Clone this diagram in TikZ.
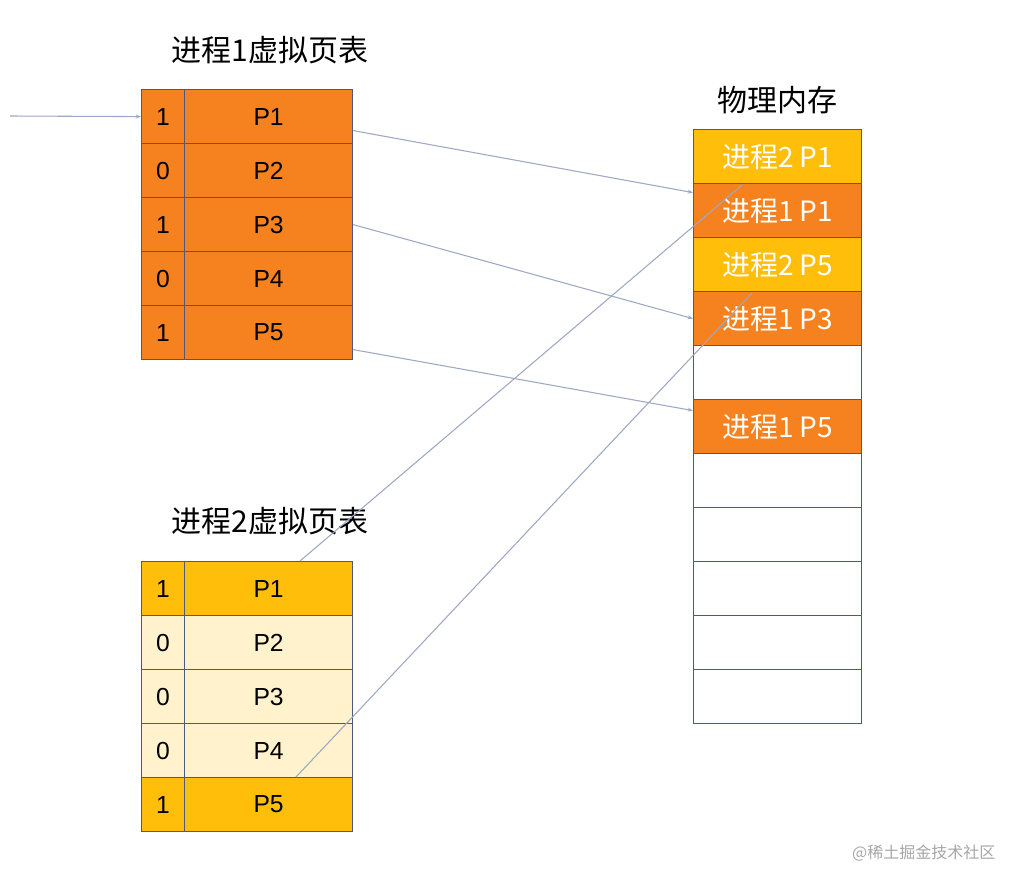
\documentclass[tikz,border=0pt]{standalone}
\usepackage{fontspec}
\setmainfont{Liberation Sans}
\newfontfamily\cjk{Noto Sans CJK SC}
\usetikzlibrary{arrows.meta}
\definecolor{org}{HTML}{F5821F}
\definecolor{gld}{HTML}{FFBE0A}
\definecolor{crm}{HTML}{FFF2CC}
\definecolor{bd}{HTML}{4A5A80}
\definecolor{ln}{HTML}{9EA8C4}
\begin{document}
\begin{tikzpicture}[x=0.75pt,y=-0.75pt,
  cell/.style={draw=bd,line width=0.9pt,minimum height=54*0.75pt,inner sep=0pt,font=\fontsize{18.5}{18.5}\selectfont,anchor=north west},
  bit/.style={cell,minimum width=43*0.75pt},
  pg/.style={cell,minimum width=168*0.75pt},
  mem/.style={cell,minimum width=168*0.75pt,text=white,font=\cjk\fontsize{21}{21}\selectfont},
  ttl/.style={font=\cjk\fontsize{22.5}{22.5}\selectfont},
  con/.style={draw=ln,line width=0.8pt},
  arr/.style={con,-{Stealth[length=4pt,width=3pt]}}]
\useasboundingbox (0,0) rectangle (1022,888);
% table 1
\node[ttl] (t1) at (270,50) {进程1虚拟页表};
\foreach \i/\b in {1/1,2/0,3/1,4/0,5/1}{
  \node[bit,fill=org] (a\i) at (141,{89+54*(\i-1)}) {\b};
  \node[pg,fill=org] (p\i) at (184,{89+54*(\i-1)}) {P\i};
}
% table 2
\node[ttl] (t2) at (270,521) {进程2虚拟页表};
\foreach \i/\b/\c in {1/1/gld,2/0/crm,3/0/crm,4/0/crm,5/1/gld}{
  \node[bit,fill=\c] (b\i) at (141,{561+54*(\i-1)}) {\b};
  \node[pg,fill=\c] (q\i) at (184,{561+54*(\i-1)}) {P\i};
}
% memory
\node[ttl] (t3) at (777,100) {物理内存};
\node[mem,fill=gld] (m1) at (693,129) {进程2 P1};
\node[mem,fill=org] (m2) at (693,183) {进程1 P1};
\node[mem,fill=gld] (m3) at (693,237) {进程2 P5};
\node[mem,fill=org] (m4) at (693,291) {进程1 P3};
\node[mem] (m5) at (693,345) {};
\node[mem,fill=org] (m6) at (693,399) {进程1 P5};
\foreach \i in {7,...,11}{\node[mem] (m\i) at (693,{453+54*(\i-7)}) {};}
% connectors
\coordinate (s0) at (10,116);
\draw[arr] (s0) -- (a1.west);
\draw[arr] ([yshift=-14*0.75pt]p1.east) -- ([yshift=18*0.75pt]m2.west);
\draw[arr] (p3.east) -- (m4.west);
\draw[arr] ([yshift=-17*0.75pt]p5.east) -- ([yshift=16*0.75pt]m6.west);
\coordinate (e1) at (742,185);
\coordinate (e2) at (752,293);
\coordinate (s1) at (300,561);
\coordinate (s2) at (296,777);
\draw[con] (s1) -- (e1);
\draw[con] (s2) -- (e2);
% watermark
\node[font=\cjk\fontsize{12}{12}\selectfont,text=gray!70,anchor=east] (wm) at (1000,853) {@稀土掘金技术社区};
\end{tikzpicture}
\end{document}
